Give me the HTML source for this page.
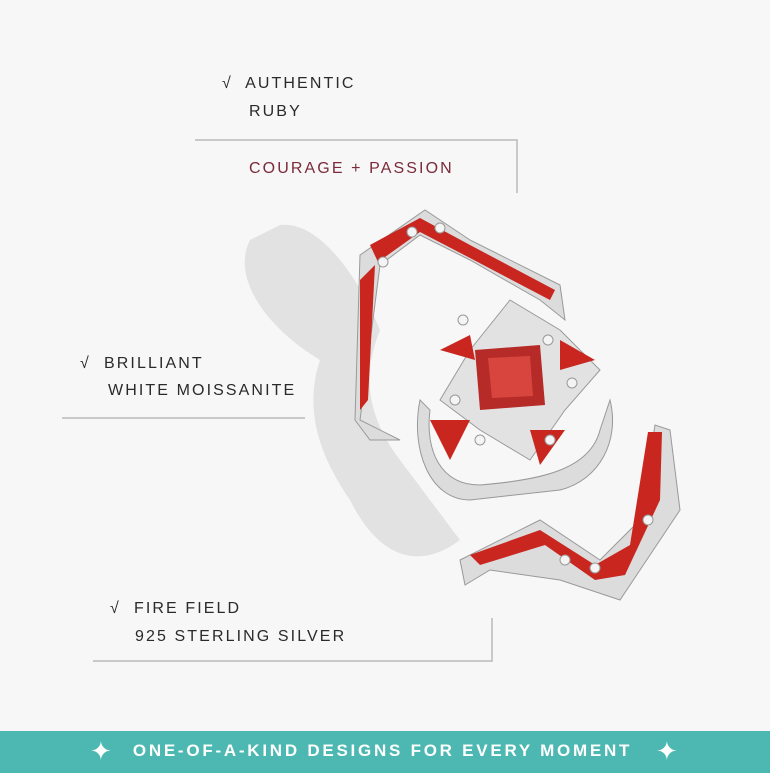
<!DOCTYPE html>
<html><head><meta charset="utf-8"><style>
body{margin:0;width:770px;height:773px;background:#f7f7f7;position:relative;overflow:hidden;font-family:"Liberation Sans",sans-serif}
.t{position:absolute;font-size:16px;letter-spacing:2.1px;color:#2a2a2a;white-space:nowrap;line-height:20px}
.l{position:absolute;background:#c9c9c9}
.ban{position:absolute;left:0;top:731px;width:770px;height:42px;background:#4db8b2}
.bt{position:absolute;left:124px;top:741px;width:517px;text-align:center;color:#fff;font-weight:bold;font-size:17px;letter-spacing:2.75px;white-space:nowrap}
.st{position:absolute;top:736px;color:#fff;font-size:26px}
</style></head><body>
<svg width="770" height="773" style="position:absolute;left:0;top:0">
<path d="M250 240 C230 280 270 330 320 360 C300 420 330 470 350 500 C380 560 420 570 460 540 L400 460 C370 420 360 380 380 330 C360 280 320 220 280 225 Z" fill="#e2e2e2"/>
<path d="M360 255 L425 210 L470 240 L560 285 L565 320 L540 300 L470 260 L420 235 L380 265 L360 420 L400 440 L370 440 L355 420 Z" fill="#dcdcdc" stroke="#999"/>
<path d="M370 245 L420 218 L470 245 L555 290 L550 300 L470 258 L420 232 L378 262 Z" fill="#c8261f"/>
<path d="M360 280 L375 265 L368 400 L360 410 Z" fill="#c8261f"/>
<path d="M420 400 C410 450 430 500 470 500 L560 490 C600 480 620 440 610 400 L600 430 C590 470 540 480 480 485 C440 485 425 450 430 410 Z" fill="#dcdcdc" stroke="#999"/>
<path d="M510 300 L560 330 L600 370 L565 410 L530 460 L480 430 L440 400 L470 350 Z" fill="#e2e2e2" stroke="#999"/>
<path d="M475 350 L540 345 L545 405 L480 410 Z" fill="#b62a28"/>
<path d="M488 358 L530 356 L533 396 L492 398 Z" fill="#d8453f"/>
<path d="M440 350 L470 335 L475 360 Z M560 340 L595 360 L560 370 Z M430 420 L470 420 L450 460 Z M530 430 L565 430 L540 465 Z" fill="#c8261f"/>
<path d="M460 560 L540 520 L600 560 L640 520 L655 425 L670 430 L680 510 L620 600 L560 580 L490 570 L465 585 Z" fill="#dcdcdc" stroke="#999"/>
<path d="M470 555 L540 530 L595 565 L630 545 L648 432 L662 432 L660 500 L625 575 L595 580 L545 545 L480 565 Z" fill="#c8261f"/>
<g fill="#f4f4f4" stroke="#999"><circle cx="412" cy="232" r="5"/><circle cx="440" cy="228" r="5"/><circle cx="383" cy="262" r="5"/><circle cx="463" cy="320" r="5"/><circle cx="548" cy="340" r="5"/><circle cx="572" cy="383" r="5"/><circle cx="455" cy="400" r="5"/><circle cx="480" cy="440" r="5"/><circle cx="550" cy="440" r="5"/><circle cx="565" cy="560" r="5"/><circle cx="595" cy="568" r="5"/><circle cx="648" cy="520" r="5"/></g>
</svg>
<div class="t" style="left:222px;top:74px">√&nbsp; AUTHENTIC</div>
<div class="t" style="left:249px;top:102px">RUBY</div>
<div class="l" style="left:195px;top:139px;width:323px;height:1.5px"></div>
<div class="l" style="left:516px;top:139px;width:1.5px;height:54px"></div>
<div class="t" style="left:249px;top:159px;color:#7a2a3a">COURAGE + PASSION</div>
<div class="t" style="left:80px;top:354px">√&nbsp; BRILLIANT</div>
<div class="t" style="left:108px;top:381px">WHITE MOISSANITE</div>
<div class="l" style="left:62px;top:417px;width:243px;height:1.5px"></div>
<div class="t" style="left:110px;top:599px">√&nbsp; FIRE FIELD</div>
<div class="t" style="left:135px;top:627px">925 STERLING SILVER</div>
<div class="l" style="left:93px;top:660px;width:400px;height:1.5px"></div>
<div class="l" style="left:491px;top:618px;width:1.5px;height:43px"></div>
<div class="ban"></div>
<div class="st" style="left:90px">✦</div>
<div class="bt">ONE-OF-A-KIND DESIGNS FOR EVERY MOMENT</div>
<div class="st" style="left:656px">✦</div>
</body></html>
